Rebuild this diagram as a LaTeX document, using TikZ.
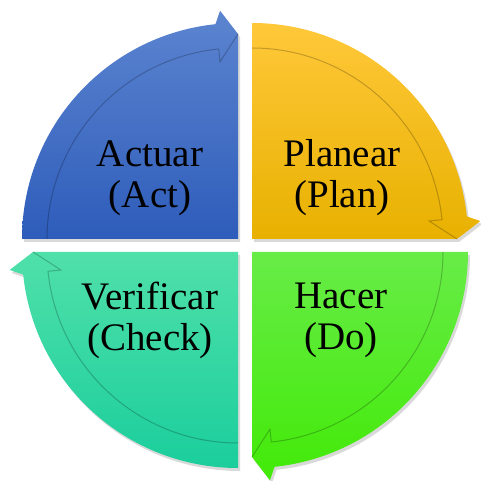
\documentclass[tikz,border=0pt]{standalone}
\usepackage{fontspec}
\setmainfont{Liberation Serif}
\definecolor{blueT}{RGB}{92,133,208}
\definecolor{blueB}{RGB}{46,92,186}
\definecolor{yelT}{RGB}{255,200,58}
\definecolor{yelB}{RGB}{232,177,0}
\definecolor{grnT}{RGB}{104,236,72}
\definecolor{grnB}{RGB}{66,234,8}
\definecolor{tealT}{RGB}{80,224,170}
\definecolor{tealB}{RGB}{26,206,156}
\newcommand\pdcaquad[5]{%
  \begin{scope}[shift={(#1,#2)}]
    \begin{scope}[shift={(2,-3)}]
      \fill[black,opacity=0.15] (0,0) -- ({180+#3}:216) arc[start angle={180+#3}, end angle={96+#3}, radius=216] -- ({94.5+#3}:229) -- ({90+#3}:205) -- cycle;
    \end{scope}
    \shade[top color=#4,bottom color=#5] (0,0) -- ({180+#3}:216) arc[start angle={180+#3}, end angle={96+#3}, radius=216] -- ({94.5+#3}:229) -- ({90+#3}:205) -- cycle;
    \draw[black,opacity=0.22,line width=1pt] ({180+#3}:191) arc[start angle={180+#3}, end angle={95.8+#3}, radius=191] -- ({95.8+#3}:178) -- ({90+#3}:205);
  \end{scope}}
\begin{document}
\begin{tikzpicture}[x=1pt,y=1pt,
  lbl/.style={align=center,inner sep=0pt,font=\fontsize{39}{41}\selectfont}]
\useasboundingbox (0,0) rectangle (480,481);
\pdcaquad{238}{242}{0}{blueT}{blueB}
\pdcaquad{252}{242}{-90}{yelT}{yelB}
\pdcaquad{252}{229}{-180}{grnT}{grnB}
\pdcaquad{238}{229}{-270}{tealT}{tealB}
\node[lbl] (act) at (150,303) {Actuar\\(Act)};
\node[lbl] (plan) at (342,303) {Planear\\(Plan)};
\node[lbl] (check) at (150,161) {Verificar\\(Check)};
\node[lbl] (do) at (341,161) {Hacer\\(Do)};
\end{tikzpicture}
\end{document}
